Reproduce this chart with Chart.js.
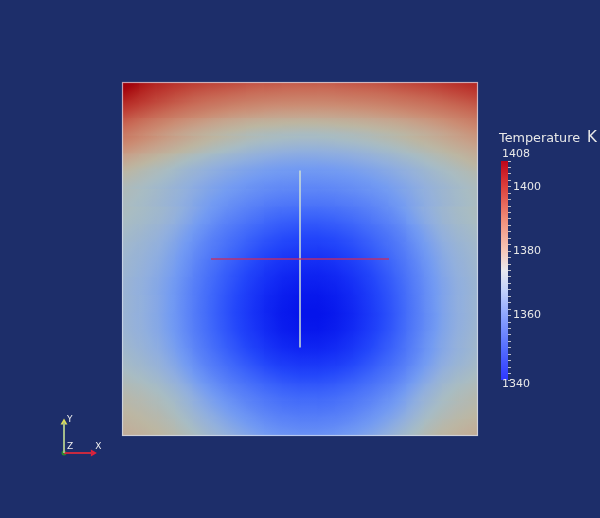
<!DOCTYPE html>
<html><head><meta charset="utf-8">
<script src="https://cdn.jsdelivr.net/npm/chart.js@4.4.1/dist/chart.umd.min.js"></script>
<style>
html,body{margin:0;padding:0;background:#1d2e6a;width:600px;height:518px;overflow:hidden;}
canvas{position:absolute;}
#field{left:0;top:0;}
#cbar{left:480px;top:120px;}
#triad{left:50px;top:405px;}
</style></head><body>
<canvas id="field" width="600" height="518"></canvas>
<canvas id="cbar" width="120" height="280"></canvas>
<canvas id="triad" width="60" height="60"></canvas>
<script>
// ---- data: temperature (K) sampled on a 20 x 20 grid, row 0 = top edge ----
const tempRows = [
[1405,1401,1398.5,1396.5,1395,1394,1393,1392,1391.5,1391,1391,1391,1391.5,1392,1392.5,1393.5,1394.5,1395.5,1397,1398.5],
[1398,1395.4,1393.1,1391,1389.2,1387.7,1386.5,1385.6,1384.9,1384.6,1384.5,1384.6,1385,1385.5,1386.2,1387.1,1388.2,1389.4,1390.9,1392.5],
[1391,1388.3,1385.9,1383.7,1381.9,1380.3,1379.1,1378.1,1377.5,1377.1,1377,1377.2,1377.6,1378.2,1379,1380,1381.3,1382.8,1384.6,1386.5],
[1386,1383.8,1381.7,1379.7,1377.7,1376.1,1374.7,1373.5,1372.7,1372.2,1372,1372.2,1372.7,1373.4,1374.4,1375.6,1377.1,1378.6,1380.3,1382],
[1380,1378,1376.2,1374.3,1372.6,1371.1,1369.9,1368.9,1368.1,1367.6,1367.5,1367.7,1368.2,1369,1370,1371.3,1372.8,1374.5,1376.2,1378],
[1376,1374.5,1373,1371.3,1369.6,1368.1,1366.8,1365.6,1364.7,1364.2,1364,1364.2,1364.8,1365.7,1366.9,1368.4,1370.1,1371.9,1373.5,1375],
[1374.5,1373.3,1371.8,1370,1367.9,1366,1364.3,1362.8,1361.5,1360.8,1360.6,1360.8,1361.6,1362.9,1364.4,1366.4,1368.7,1370.8,1372.6,1374],
[1374,1373,1371.5,1369.2,1366.4,1363.7,1361.3,1359.1,1357.1,1356,1355.6,1356,1357.2,1359.1,1361.5,1364.3,1367.7,1370.5,1372.7,1374],
[1373,1371.8,1370,1367.3,1364,1360.8,1357.9,1355.2,1353,1351.6,1351.1,1351.6,1353,1355.3,1358.1,1361.4,1365.4,1368.9,1371.5,1373],
[1372,1370.7,1368.7,1365.6,1361.9,1358.4,1355.2,1352.2,1349.7,1348.1,1347.7,1348.1,1349.7,1352.3,1355.4,1359.1,1363.6,1367.4,1370.3,1372],
[1371.5,1370,1367.8,1364.4,1360.2,1356.2,1352.6,1349.3,1346.4,1344.7,1344.2,1344.7,1346.5,1349.4,1352.9,1357.1,1362,1366.4,1369.6,1371.5],
[1371,1369.4,1367,1363.4,1358.9,1354.7,1350.9,1347.3,1344.3,1342.4,1341.9,1342.5,1344.3,1347.4,1351.2,1355.6,1360.9,1365.6,1369,1371],
[1371,1369.4,1366.8,1363,1358.3,1353.9,1349.8,1346.1,1342.9,1341,1340.4,1341,1343,1346.2,1350.2,1354.8,1360.4,1365.3,1368.9,1371],
[1371,1369.4,1366.8,1363,1358.3,1353.9,1349.8,1346.1,1342.9,1340.9,1340.2,1340.8,1342.8,1346,1350,1354.7,1360.3,1365.2,1368.9,1371],
[1371.5,1369.9,1367.5,1363.8,1359.3,1355,1351.1,1347.5,1344.4,1342.5,1342,1342.6,1344.5,1347.6,1351.4,1355.9,1361.3,1366,1369.4,1371.5],
[1372.5,1371,1368.8,1365.4,1361.2,1357.2,1353.6,1350.3,1347.4,1345.7,1345.2,1345.7,1347.4,1350.3,1353.8,1357.8,1362.7,1367,1370.1,1372],
[1374,1372.7,1370.7,1367.7,1364,1360.5,1357.3,1354.4,1351.9,1350.3,1349.8,1350.3,1351.9,1354.3,1357.4,1361,1365.3,1369.1,1371.9,1373.5],
[1376,1374.9,1373.1,1370.5,1367.3,1364.2,1361.4,1358.9,1356.7,1355.3,1354.9,1355.3,1356.7,1358.8,1361.5,1364.6,1368.4,1371.6,1374.1,1375.5],
[1377.5,1376.5,1375,1372.6,1369.8,1367.2,1364.7,1362.4,1360.4,1359.2,1358.9,1359.2,1360.4,1362.3,1364.7,1367.4,1370.7,1373.6,1375.7,1377],
[1379,1378.1,1376.8,1374.7,1372.2,1369.9,1367.7,1365.7,1363.9,1362.9,1362.6,1362.9,1364,1365.7,1367.8,1370.4,1373.3,1376,1377.8,1379]
];
// probe lines (domain units 0..20)
const probeVX = [10, 10], probeVY = [5, 15];
const probeHX = [5, 15],  probeHY = [10, 10];
// colour bar
const cbarMin = 1340, cbarMax = 1408;
const cbarLabelValues = [1360, 1380, 1400];
const cbarTitle = 'Temperature', cbarUnit = 'K';
// orientation triad
const triadAxisX = [0, 0.85], triadAxisY = [0, 0.85];

// ---- styles ----
const fieldStops = [
 [1340,[5,20,235]],[1345,[20,45,245]],[1350,[35,70,250]],[1356,[63,103,250]],
 [1362,[92,132,247]],[1366,[115,155,242]],[1370,[145,175,222]],[1374,[168,188,195]],
 [1378,[188,182,162]],[1382,[198,163,140]],[1386,[203,140,115]],[1392,[200,105,85]],
 [1398,[190,62,52]],[1404,[175,25,25]],[1408,[160,0,10]]
];
const barStops = [
 [1340,[45,55,255]],[1350,[85,110,255]],[1360,[140,165,255]],[1368,[195,210,250]],
 [1374,[232,232,238]],[1380,[245,200,185]],[1390,[240,140,120]],[1400,[220,65,60]],[1408,[190,5,25]]
];
function colorAt(stops, v){
  if (v <= stops[0][0]) return stops[0][1];
  for (let k=1;k<stops.length;k++){
    if (v <= stops[k][0]){
      const [v0,c0]=stops[k-1],[v1,c1]=stops[k];
      const f=(v-v0)/(v1-v0);
      return c0.map((c,i)=>Math.round(c+(c1[i]-c)*f));
    }
  }
  return stops[stops.length-1][1];
}
const rgb = c => `rgb(${c[0]},${c[1]},${c[2]})`;
const textColor = '#e8e8e8';
Chart.defaults.font.family = '"DejaVu Sans", sans-serif';

const nRows = tempRows.length, nCols = tempRows[0].length;

// shading of a cell: linear gradient following the local slope of the field
function slope(arr, k){
  const n = arr.length;
  if (k === 0) return arr[1] - arr[0];
  if (k === n - 1) return arr[n-1] - arr[n-2];
  return (arr[k+1] - arr[k-1]) / 2;
}
function cellFill(ctx, j){
  const i = ctx.dataIndex;
  const t = tempRows[j][i];
  const chart = ctx.chart;
  if (!chart.chartArea) return rgb(colorAt(fieldStops, t));
  const xs = chart.scales.x, ys = chart.scales.y;
  const x0 = xs.getPixelForValue(i), x1 = xs.getPixelForValue(i + 1);
  const y0 = ys.getPixelForValue(nRows - j), y1 = ys.getPixelForValue(nRows - 1 - j);
  const w = x1 - x0, h = y1 - y0, cx = (x0 + x1) / 2, cy = (y0 + y1) / 2;
  const gx = slope(tempRows[j], i) / w;
  const gy = slope(tempRows.map(r => r[i]), j) / h;
  const mag = Math.hypot(gx, gy);
  if (mag < 1e-6) return rgb(colorAt(fieldStops, t));
  const ux = gx / mag, uy = gy / mag;
  const d = (Math.abs(ux) * w + Math.abs(uy) * h) / 2 + 1;
  const g = chart.ctx.createLinearGradient(cx - ux*d, cy - uy*d, cx + ux*d, cy + uy*d);
  const steps = 6;
  for (let s = 0; s <= steps; s++) {
    const v = t - mag*d + (2*mag*d) * s / steps;
    g.addColorStop(s / steps, rgb(colorAt(fieldStops, v)));
  }
  return g;
}
const fieldDatasets = tempRows.map((row, j) => ({
  type: 'bar',
  label: 'row ' + j,
  data: row.map((t, i) => ({x: i + 0.5, y: [nRows - 1 - j, nRows - j]})),
  backgroundColor: (ctx) => cellFill(ctx, j),
  borderWidth: 0,
  grouped: false,
  barPercentage: 1,
  categoryPercentage: 1,
  inflateAmount: 0.6,
  order: 5
}));
const outlinePlugin = {
  id: 'outline',
  afterDatasetsDraw(chart){
    const a = chart.chartArea, c = chart.ctx;
    c.save();
    c.strokeStyle = 'rgba(215,222,240,0.7)';
    c.lineWidth = 1.2;
    c.strokeRect(a.left+0.5, a.top+0.5, a.right-a.left-1, a.bottom-a.top-1);
    c.restore();
  }
};
new Chart(document.getElementById('field'), {
  type: 'bar',
  data: { datasets: [
    ...fieldDatasets,
    { type:'line', label:'probe y', data: probeVX.map((x,k)=>({x, y: probeVY[k]})),
      borderColor:'rgba(205,222,212,0.95)', borderWidth:1.6, pointRadius:0, order:1 },
    { type:'line', label:'probe x', data: probeHX.map((x,k)=>({x, y: probeHY[k]})),
      borderColor:'rgba(200,45,95,0.9)', borderWidth:1.6, pointRadius:0, order:0 }
  ]},
  options: {
    responsive:false, animation:false,
    layout:{padding:{left:122, right:122, top:82, bottom:82}},
    plugins:{legend:{display:false}, tooltip:{enabled:false}},
    scales:{
      x:{type:'linear', min:0, max:nCols, offset:false, display:false},
      y:{type:'linear', min:0, max:nRows, offset:false, display:false}
    }
  },
  plugins:[outlinePlugin]
});

// ---- colour bar ----
const cbarTicks = [];
for (let v = cbarMin; v <= cbarMax; v += 2) cbarTicks.push(v);
const cbarText = {
  id:'cbarText',
  afterDraw(chart){
    const a = chart.chartArea, c = chart.ctx;
    c.save();
    c.fillStyle = textColor;
    c.textBaseline = 'middle'; c.textAlign = 'left';
    c.font = '11px "DejaVu Sans"';
    c.fillText(String(cbarMax), a.left + 1, a.top - 7);
    c.fillText(String(cbarMin), a.left + 1, a.bottom + 4);
    c.font = '12.8px "DejaVu Sans"';
    c.fillText(cbarTitle, a.left - 2, a.top - 22);
    c.font = '15px "DejaVu Sans"';
    c.fillText(cbarUnit, a.left + 86, a.top - 23);
    c.restore();
  }
};
new Chart(document.getElementById('cbar'), {
  type:'bar',
  data:{ labels:['T'], datasets:[{
    data:[[cbarMin, cbarMax]],
    backgroundColor(ctx){
      const chart = ctx.chart;
      if (!chart.chartArea) return 'rgba(0,0,0,0)';
      const ys = chart.scales.y;
      const g = chart.ctx.createLinearGradient(0, ys.getPixelForValue(cbarMin), 0, ys.getPixelForValue(cbarMax));
      barStops.forEach(([v,col]) => g.addColorStop((v-cbarMin)/(cbarMax-cbarMin), rgb(col)));
      return g;
    },
    borderWidth:0, barPercentage:1, categoryPercentage:1
  }]},
  options:{
    responsive:false, animation:false,
    layout:{padding:{left:21, top:41, bottom:20, right:0}},
    plugins:{legend:{display:false}, tooltip:{enabled:false}},
    scales:{
      x:{display:false},
      y:{
        position:'right', min:cbarMin, max:cbarMax,
        afterFit(s){ s.width = 92; },
        afterBuildTicks(s){ s.ticks = cbarTicks.map(v => ({value:v})); },
        grid:{drawOnChartArea:false, color:'rgba(215,215,215,0.85)', tickLength:3, lineWidth:1},
        border:{display:false},
        ticks:{autoSkip:false, padding:2, color:textColor, font:{size:11},
          callback:(v)=> cbarLabelValues.includes(v) ? String(v) : ''}
      }
    }
  },
  plugins:[cbarText]
});

// ---- orientation triad ----
const triadText = {
  id:'triadText',
  afterDraw(chart){
    const c = chart.ctx, xs = chart.scales.x, ys = chart.scales.y;
    c.save();
    c.fillStyle = '#f0f0f0'; c.font = '9px "DejaVu Sans"';
    c.textBaseline = 'middle'; c.textAlign = 'left';
    c.fillText('Y', xs.getPixelForValue(0) + 3, ys.getPixelForValue(0.92));
    c.fillText('Z', xs.getPixelForValue(0) + 3, ys.getPixelForValue(0) - 6);
    c.fillText('X', xs.getPixelForValue(0.92), ys.getPixelForValue(0) - 6);
    c.restore();
  }
};
new Chart(document.getElementById('triad'), {
  type:'scatter',
  data:{datasets:[
    {data: triadAxisY.map(y=>({x:0,y})), showLine:true, borderColor:'#a3bb8c', borderWidth:2, pointRadius:0, clip:false},
    {data: triadAxisX.map(x=>({x,y:0})), showLine:true, borderColor:'#c62a40', borderWidth:2, pointRadius:0, clip:false},
    {data:[{x:0,y:triadAxisY[1]}], pointStyle:'triangle', rotation:0, pointRadius:4, backgroundColor:'#dede5a', borderColor:'#dede5a', borderWidth:0, clip:false},
    {data:[{x:triadAxisX[1],y:0}], pointStyle:'triangle', rotation:90, pointRadius:4, backgroundColor:'#e0203a', borderColor:'#e0203a', borderWidth:0, clip:false},
    {data:[{x:0,y:0}], pointRadius:2.5, backgroundColor:'#2c8a2c', borderColor:'#2c8a2c', borderWidth:0, clip:false}
  ]},
  options:{
    responsive:false, animation:false,
    layout:{padding:{left:14, right:12, top:12, bottom:12}},
    plugins:{legend:{display:false}, tooltip:{enabled:false}},
    scales:{x:{display:false, min:0, max:1}, y:{display:false, min:0, max:1}}
  },
  plugins:[triadText]
});
</script>
</body></html>
